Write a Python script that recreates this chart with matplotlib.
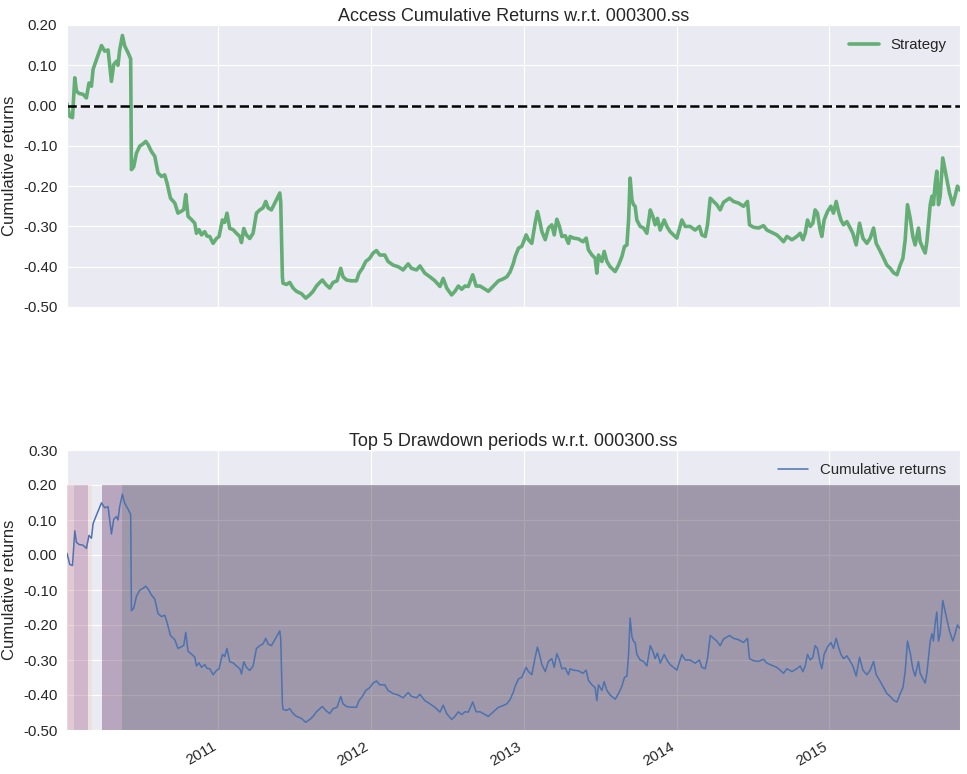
import matplotlib
matplotlib.use("Agg")
import matplotlib.pyplot as plt
import matplotlib.dates as mdates
import seaborn as sns
import pandas as pd
import numpy as np

# ---------------- data ----------------
# time stamps as decimal years, cumulative returns
t_years = [
    2010.008, 2010.026, 2010.044, 2010.059, 2010.070, 2010.087, 2010.113, 2010.135, 2010.152, 2010.168,
    2010.179, 2010.201, 2010.234, 2010.255, 2010.277, 2010.299, 2010.314, 2010.332, 2010.342, 2010.353,
    2010.371, 2010.386, 2010.408, 2010.425, 2010.430, 2010.445, 2010.463, 2010.484, 2010.506, 2010.524,
    2010.539, 2010.561, 2010.583, 2010.604, 2010.627, 2010.648, 2010.663, 2010.686, 2010.714, 2010.735,
    2010.758, 2010.773, 2010.786, 2010.801, 2010.823, 2010.845, 2010.856, 2010.873, 2010.889, 2010.910,
    2010.925, 2010.943, 2010.965, 2010.987, 2011.004, 2011.026, 2011.041, 2011.056, 2011.074, 2011.096,
    2011.118, 2011.140, 2011.151, 2011.166, 2011.183, 2011.205, 2011.227, 2011.249, 2011.271, 2011.292,
    2011.310, 2011.325, 2011.347, 2011.369, 2011.390, 2011.402, 2011.408, 2011.419, 2011.423, 2011.445,
    2011.467, 2011.489, 2011.511, 2011.544, 2011.572, 2011.598, 2011.620, 2011.642, 2011.664, 2011.681,
    2011.703, 2011.729, 2011.751, 2011.777, 2011.801, 2011.816, 2011.839, 2011.871, 2011.904, 2011.921,
    2011.943, 2011.965, 2011.991, 2012.013, 2012.035, 2012.057, 2012.089, 2012.111, 2012.144, 2012.177,
    2012.209, 2012.242, 2012.264, 2012.297, 2012.319, 2012.351, 2012.384, 2012.417, 2012.450, 2012.471,
    2012.494, 2012.526, 2012.548, 2012.570, 2012.592, 2012.613, 2012.635, 2012.664, 2012.686, 2012.712,
    2012.733, 2012.766, 2012.799, 2012.832, 2012.864, 2012.887, 2012.908, 2012.930, 2012.941, 2012.963,
    2012.985, 2013.013, 2013.028, 2013.050, 2013.061, 2013.072, 2013.087, 2013.100, 2013.116, 2013.138,
    2013.159, 2013.181, 2013.197, 2013.214, 2013.231, 2013.247, 2013.269, 2013.290, 2013.301, 2013.323,
    2013.356, 2013.385, 2013.406, 2013.421, 2013.444, 2013.465, 2013.476, 2013.487, 2013.509, 2013.524,
    2013.542, 2013.563, 2013.596, 2013.618, 2013.640, 2013.657, 2013.673, 2013.684, 2013.694, 2013.706,
    2013.716, 2013.727, 2013.738, 2013.760, 2013.782, 2013.804, 2013.826, 2013.843, 2013.858, 2013.873,
    2013.891, 2013.917, 2013.935, 2013.956, 2013.978, 2014.000, 2014.033, 2014.055, 2014.087, 2014.120,
    2014.148, 2014.164, 2014.186, 2014.201, 2014.219, 2014.240, 2014.262, 2014.284, 2014.306, 2014.345,
    2014.371, 2014.404, 2014.437, 2014.463, 2014.476, 2014.502, 2014.535, 2014.568, 2014.590, 2014.623,
    2014.655, 2014.677, 2014.699, 2014.721, 2014.754, 2014.786, 2014.808, 2014.826, 2014.841, 2014.856,
    2014.874, 2014.891, 2014.906, 2014.921, 2014.939, 2014.950, 2014.965, 2014.987, 2015.009, 2015.026,
    2015.044, 2015.059, 2015.075, 2015.092, 2015.114, 2015.136, 2015.153, 2015.175, 2015.197, 2015.219,
    2015.245, 2015.267, 2015.289, 2015.306, 2015.328, 2015.350, 2015.376, 2015.398, 2015.420, 2015.442,
    2015.463, 2015.481, 2015.496, 2015.511, 2015.529, 2015.546, 2015.561, 2015.583, 2015.594, 2015.612,
    2015.627, 2015.638, 2015.649, 2015.660, 2015.671, 2015.681, 2015.692, 2015.703, 2015.714, 2015.725,
    2015.742, 2015.764, 2015.786, 2015.808, 2015.823, 2015.838, 2015.855,
]
cum_returns = [
    0.005, -0.027, -0.030, 0.069, 0.036, 0.030, 0.028, 0.019, 0.056, 0.048,
    0.090, 0.114, 0.149, 0.135, 0.138, 0.060, 0.102, 0.110, 0.100, 0.138,
    0.174, 0.148, 0.131, 0.116, -0.159, -0.152, -0.118, -0.101, -0.095, -0.089,
    -0.097, -0.114, -0.126, -0.167, -0.176, -0.172, -0.192, -0.230, -0.242, -0.267,
    -0.262, -0.258, -0.221, -0.275, -0.283, -0.292, -0.317, -0.308, -0.321, -0.313,
    -0.324, -0.325, -0.342, -0.330, -0.325, -0.284, -0.290, -0.267, -0.305, -0.308,
    -0.317, -0.325, -0.340, -0.305, -0.321, -0.330, -0.317, -0.267, -0.259, -0.254,
    -0.238, -0.254, -0.259, -0.242, -0.226, -0.217, -0.240, -0.425, -0.441, -0.444,
    -0.439, -0.453, -0.461, -0.467, -0.478, -0.470, -0.461, -0.448, -0.439, -0.433,
    -0.444, -0.453, -0.439, -0.435, -0.404, -0.425, -0.433, -0.435, -0.435, -0.416,
    -0.404, -0.387, -0.379, -0.366, -0.360, -0.371, -0.371, -0.387, -0.396, -0.400,
    -0.408, -0.393, -0.404, -0.408, -0.398, -0.416, -0.425, -0.435, -0.449, -0.429,
    -0.453, -0.470, -0.461, -0.448, -0.456, -0.448, -0.449, -0.420, -0.448, -0.448,
    -0.453, -0.461, -0.448, -0.435, -0.430, -0.425, -0.413, -0.391, -0.375, -0.354,
    -0.349, -0.321, -0.333, -0.342, -0.317, -0.292, -0.263, -0.283, -0.313, -0.333,
    -0.304, -0.296, -0.321, -0.282, -0.300, -0.325, -0.323, -0.342, -0.325, -0.329,
    -0.331, -0.338, -0.329, -0.358, -0.371, -0.379, -0.416, -0.371, -0.387, -0.362,
    -0.387, -0.400, -0.412, -0.396, -0.375, -0.350, -0.346, -0.284, -0.180, -0.234,
    -0.246, -0.250, -0.284, -0.300, -0.304, -0.317, -0.259, -0.275, -0.296, -0.280,
    -0.309, -0.284, -0.300, -0.313, -0.321, -0.329, -0.284, -0.300, -0.300, -0.309,
    -0.300, -0.321, -0.325, -0.296, -0.230, -0.238, -0.246, -0.259, -0.240, -0.230,
    -0.238, -0.242, -0.250, -0.238, -0.296, -0.302, -0.304, -0.298, -0.309, -0.315,
    -0.321, -0.329, -0.338, -0.325, -0.333, -0.325, -0.317, -0.333, -0.317, -0.284,
    -0.300, -0.292, -0.259, -0.267, -0.309, -0.325, -0.284, -0.263, -0.250, -0.267,
    -0.238, -0.263, -0.284, -0.296, -0.288, -0.304, -0.317, -0.346, -0.292, -0.329,
    -0.342, -0.329, -0.304, -0.342, -0.358, -0.375, -0.396, -0.404, -0.415, -0.420,
    -0.396, -0.379, -0.333, -0.246, -0.280, -0.325, -0.346, -0.304, -0.338, -0.354,
    -0.366, -0.338, -0.292, -0.246, -0.225, -0.246, -0.196, -0.163, -0.246, -0.225,
    -0.130, -0.174, -0.217, -0.246, -0.225, -0.200, -0.210,
]

# top-5 drawdown periods (peak, recovery) as decimal years; None = not recovered
dd_peaks = [2010.371, 2010.236, 2010.057, 2010.008, 2010.148]
dd_recoveries = [None, 2010.371, 2010.148, 2010.057, 2010.175]

y_ticks_top = [0.20, 0.10, 0.00, -0.10, -0.20, -0.30, -0.40, -0.50]
y_ticks_bottom = [0.30, 0.20, 0.10, 0.00, -0.10, -0.20, -0.30, -0.40, -0.50]

title_top = "Access Cumulative Returns w.r.t. 000300.ss"
title_bottom = "Top 5 Drawdown periods w.r.t. 000300.ss"


def dec_to_ts(y):
    yr = int(np.floor(y))
    start = pd.Timestamp(year=yr, month=1, day=1)
    ndays = (pd.Timestamp(year=yr + 1, month=1, day=1) - start).days
    return start + pd.Timedelta(days=(y - yr) * ndays)


dates = pd.DatetimeIndex([dec_to_ts(t) for t in t_years])
series = pd.Series(cum_returns, index=dates)

# ---------------- style ----------------
sns.set_style("darkgrid")
plt.rcParams["font.family"] = ["Liberation Sans", "DejaVu Sans"]
plt.rcParams["legend.frameon"] = False

fig = plt.figure(figsize=(9.67, 7.74), dpi=100)
W, H = 967.0, 774.0
left, right = 67 / W, 960 / W
ax1 = fig.add_axes([left, 1 - 307 / H, right - left, (307 - 25) / H])
ax2 = fig.add_axes([left, 1 - 730 / H, right - left, (730 - 450) / H], sharex=ax1)

tick_fs = 10.8
title_fs = 13
label_fs = 12

# ---------------- top panel ----------------
ax1.plot(series.index, series.values, color="#55A868", lw=2.6, alpha=0.9, label="Strategy")
ax1.axhline(0.0, linestyle="--", color="black", lw=1.8)
ax1.set_ylim(-0.5, 0.2)
ax1.set_yticks(y_ticks_top)
ax1.set_yticklabels(["%.2f" % v for v in y_ticks_top], fontsize=tick_fs)
ax1.set_ylabel("Cumulative returns", fontsize=label_fs)
ax1.set_title(title_top, fontsize=title_fs, pad=3)
ax1.legend(loc="upper right", fontsize=tick_fs)
plt.setp(ax1.get_xticklabels(), visible=False)

# ---------------- bottom panel ----------------
ax2.plot(series.index, series.values, color="#4C72B0", lw=1.1, label="Cumulative returns", zorder=4)
colors = sns.cubehelix_palette(len(dd_peaks))[::-1]
for i, (pk, rc) in enumerate(zip(dd_peaks, dd_recoveries)):
    pk_ts = dec_to_ts(pk)
    rc_ts = series.index[-1] if rc is None else dec_to_ts(rc)
    ax2.fill_between([pk_ts, rc_ts], -0.5, 0.2, alpha=0.4, color=colors[i], lw=0, zorder=3)
ax2.set_ylim(-0.5, 0.3)
ax2.set_yticks(y_ticks_bottom)
ax2.set_yticklabels(["%.2f" % v for v in y_ticks_bottom], fontsize=tick_fs)
ax2.set_ylabel("Cumulative returns", fontsize=label_fs)
ax2.set_title(title_bottom, fontsize=title_fs, pad=3)
ax2.legend(loc="upper right", fontsize=tick_fs)

ax2.set_xlim(series.index[0], series.index[-1])
ax2.xaxis.set_major_locator(mdates.YearLocator())
ax2.xaxis.set_major_formatter(mdates.DateFormatter("%Y"))
for lab in ax2.get_xticklabels():
    lab.set_rotation(30)
    lab.set_ha("right")
    lab.set_fontsize(tick_fs)

fig.savefig("out.png", dpi=100)
